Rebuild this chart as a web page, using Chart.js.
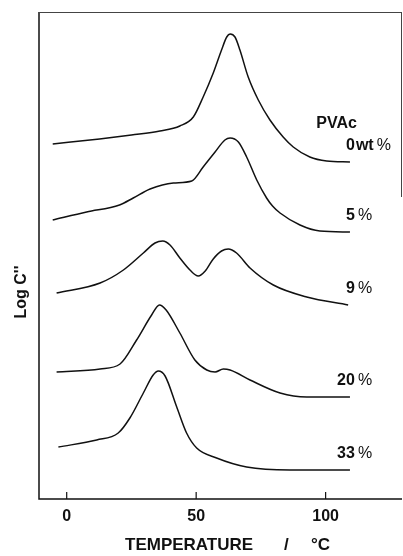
<!DOCTYPE html>
<html lang="en">
<head>
    <meta charset="UTF-8">
    <title>Log C'' vs Temperature, PVAc blends</title>
    <script src="https://cdn.jsdelivr.net/npm/chart.js"></script>
    <style>
        body {
            margin: 0;
            background-color: #ffffff;
        }
        #chart {
            display: block;
        }
    </style>
</head>
<body>
    <canvas id="chart" width="403" height="556"></canvas>

    <script>
        // PVAc content of each curve (wt %), top curve first
        const pvacContent = ['0', '5', '9', '20', '33'];
        const labelSuffix = ['wt%', '%', '%', '%', '%'];

        // Temperature (°C) and Log C'' (arbitrary units, curves offset vertically)
        const temp0 = [-5.4, 12.7, 25.0, 36.0, 43.7, 48.9, 52.7, 56.6, 59.8, 61.8, 63.1, 65.0, 66.9, 70.1, 74.0, 78.5, 83.6, 87.5, 93.9, 100.4, 109.4];
        const logC0 = [355, 360, 364, 368, 373, 382, 402, 426, 449, 462, 465, 462, 449, 422, 399, 379, 362, 352, 342, 338, 337];

        const temp5 = [-5.4, 7.7, 20.4, 25.7, 32.2, 41.2, 48.3, 52.7, 57.3, 61.1, 63.1, 66.3, 69.5, 73.4, 77.2, 79.5, 82.4, 90.1, 97.8, 109.4];
        const logC5 = [279, 287, 294, 301, 310, 316, 318, 332, 347, 359, 361, 357, 342, 319, 301, 293, 286, 274, 268, 267];

        const temp9 = [-3.9, 12.9, 21.9, 29.6, 34.1, 37.1, 39.9, 43.7, 47.6, 50.8, 53.5, 56.6, 59.8, 62.4, 65.6, 70.8, 79.8, 92.7, 108.7];
        const logC9 = [206, 216, 229, 246, 256, 258, 254, 241, 229, 223, 228, 240, 248, 250, 246, 231, 214, 202, 194];

        const temp20 = [-3.9, 12.9, 20.6, 27.0, 32.8, 35.8, 38.4, 43.7, 49.5, 54.1, 57.3, 60.5, 63.1, 70.8, 82.4, 92.7, 109.4];
        const logC20 = [127, 130, 135, 159, 184, 194, 189, 166, 139, 129, 127, 130, 129, 119, 106, 102, 102];

        const temp33 = [-3.2, 11.6, 19.9, 24.4, 29.6, 33.4, 35.4, 38.0, 42.5, 46.3, 50.2, 57.9, 69.5, 86.2, 109.4];
        const logC33 = [52, 59, 66, 81, 106, 124, 128, 123, 92, 66, 51, 41, 32, 29, 29];

        const xTicks = [0, 50, 100];

        const temps = [temp0, temp5, temp9, temp20, temp33];
        const logCs = [logC0, logC5, logC9, logC20, logC33];

        const FONT = "'Liberation Sans', Arial, sans-serif";
        const INK = '#111111';

        // frame, inward tick marks, axis titles and curve labels
        const decorations = {
            id: 'decorations',
            afterDraw(chart) {
                const { ctx, chartArea: a, scales: { x, y } } = chart;
                ctx.save();
                ctx.strokeStyle = INK;

                // left + bottom axes
                ctx.lineWidth = 1.5;
                ctx.beginPath();
                ctx.moveTo(a.left, a.top);
                ctx.lineTo(a.left, a.bottom);
                ctx.lineTo(a.right, a.bottom);
                ctx.stroke();

                // top and (partial) right edge of the frame
                ctx.lineWidth = 1;
                ctx.strokeStyle = '#444';
                ctx.beginPath();
                ctx.moveTo(a.left, a.top + 0.5);
                ctx.lineTo(a.right, a.top + 0.5);
                ctx.moveTo(a.right - 0.5, a.top);
                ctx.lineTo(a.right - 0.5, a.top + 185);
                ctx.stroke();

                // tick marks pointing into the plot
                ctx.strokeStyle = INK;
                ctx.lineWidth = 1.2;
                ctx.beginPath();
                xTicks.forEach(v => {
                    const px = x.getPixelForValue(v);
                    ctx.moveTo(px, a.bottom);
                    ctx.lineTo(px, a.bottom - 7);
                });
                ctx.stroke();

                ctx.fillStyle = INK;

                // x title
                ctx.font = 'bold 17px ' + FONT;
                ctx.textBaseline = 'alphabetic';
                ctx.textAlign = 'left';
                const ty = 550;
                ctx.fillText('TEMPERATURE', 125, ty);
                ctx.fillText('/', 284, ty);
                ctx.fillText('°C', 311, ty);

                // y title
                ctx.save();
                ctx.translate(26, 292);
                ctx.rotate(-Math.PI / 2);
                ctx.textAlign = 'center';
                ctx.font = 'bold 16px ' + FONT;
                ctx.fillText("Log C''", 0, 0);
                ctx.restore();

                // curve labels, numbers right aligned near the curve ends
                const labelX = x.getPixelForValue(111.3);
                ctx.textBaseline = 'middle';
                pvacContent.forEach((p, i) => {
                    const last = logCs[i][logCs[i].length - 1];
                    const ly = y.getPixelForValue(last + 16);
                    ctx.textAlign = 'right';
                    ctx.font = 'bold 16px ' + FONT;
                    ctx.fillText(p, labelX, ly);
                    ctx.textAlign = 'left';
                    let sx = labelX + 1;
                    const suf = labelSuffix[i];
                    if (suf.startsWith('wt')) {
                        ctx.fillText('wt', sx, ly);
                        sx += ctx.measureText('wt').width + 1;
                    }
                    ctx.font = '16px ' + FONT;
                    ctx.fillText('%', sx + 2, ly);
                    if (i === 0) {
                        ctx.textAlign = 'right';
                        ctx.font = 'bold 16px ' + FONT;
                        ctx.fillText('PVAc', labelX + 2, ly - 22);
                    }
                });
                ctx.restore();
            }
        };

        const datasets = temps.map((t, i) => ({
            label: pvacContent[i] + labelSuffix[i],
            data: t.map((v, j) => ({ x: v, y: logCs[i][j] })),
            borderColor: INK,
            borderWidth: 1.5,
            pointRadius: 0,
            fill: false,
            cubicInterpolationMode: 'monotone'
        }));

        new Chart(document.getElementById('chart').getContext('2d'), {
            type: 'line',
            data: { datasets: datasets },
            options: {
                responsive: false,
                animation: false,
                devicePixelRatio: 1,
                layout: { padding: { left: 39, top: 12, right: 1, bottom: 0 } },
                plugins: {
                    legend: { display: false },
                    tooltip: { enabled: false }
                },
                scales: {
                    x: {
                        type: 'linear',
                        min: -10.7,
                        max: 129.5,
                        border: { display: false },
                        grid: { display: false },
                        ticks: {
                            color: INK,
                            padding: 0,
                            font: { family: FONT, size: 16, weight: 'bold' }
                        },
                        afterBuildTicks: s => { s.ticks = xTicks.map(v => ({ value: v })); },
                        afterFit: s => { s.height = 57; }
                    },
                    y: {
                        display: false,
                        min: 0,
                        max: 487
                    }
                }
            },
            plugins: [decorations]
        });
    </script>
</body>
</html>
